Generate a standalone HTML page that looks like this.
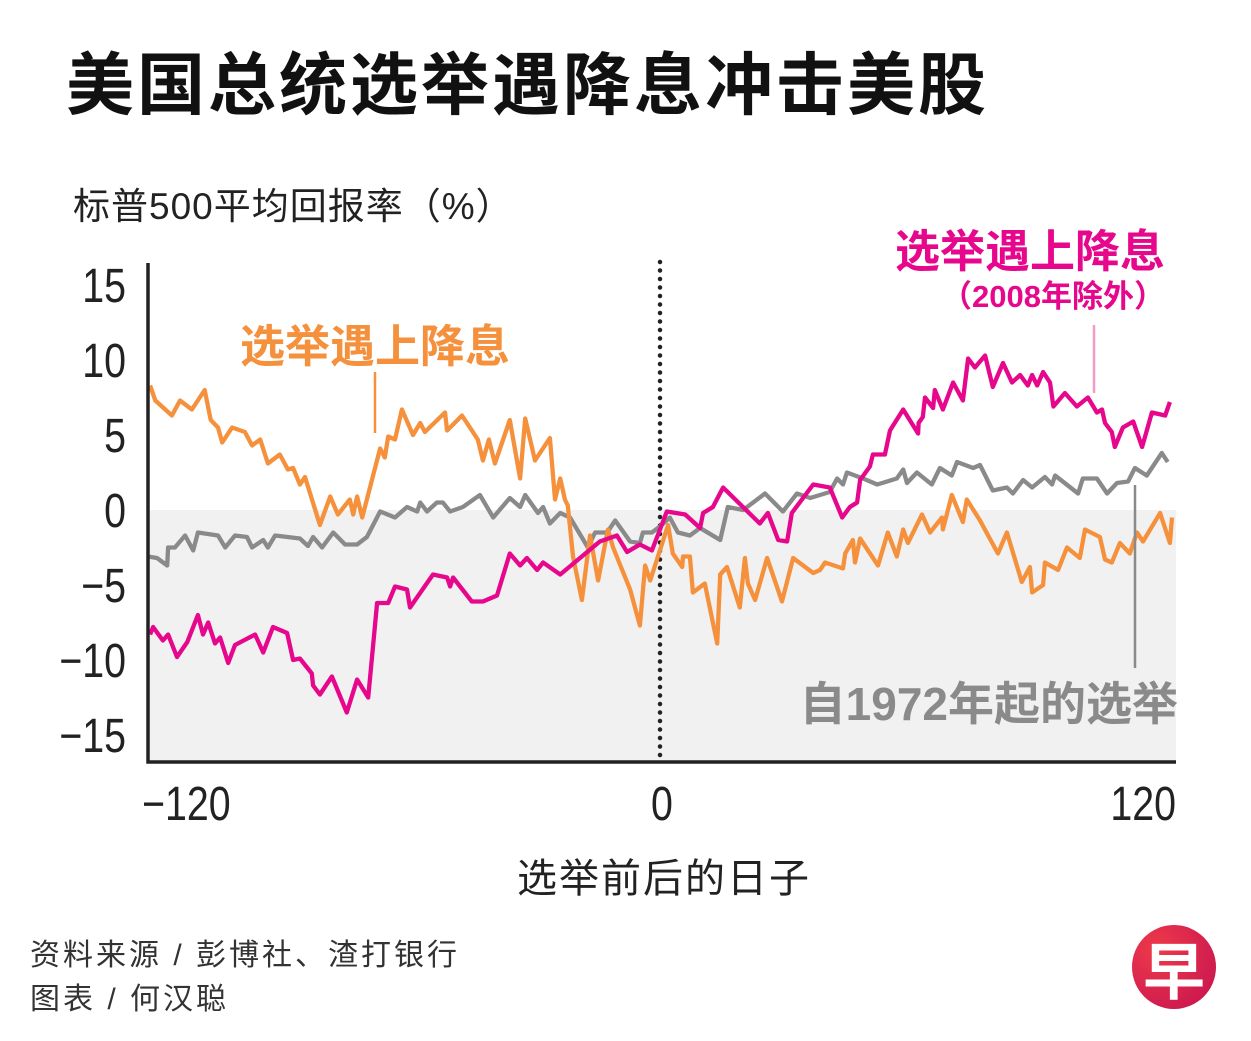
<!DOCTYPE html>
<html><head><meta charset="utf-8">
<style>
html,body{margin:0;padding:0;background:#fff;}
body{width:1251px;height:1041px;position:relative;overflow:hidden;font-family:"Liberation Sans","Noto Sans CJK SC",sans-serif;}
.t{position:absolute;white-space:nowrap;}
</style></head><body>
<div class="t" style="left:66px;top:30px;font-size:68px;font-weight:bold;color:#111;letter-spacing:3px;">美国总统选举遇降息冲击美股</div>
<div class="t" style="left:73px;top:176px;font-size:37px;color:#222;letter-spacing:1px;">标普500平均回报率（%）</div>
<svg id="chart" width="1251" height="1041" style="position:absolute;left:0;top:0;"></svg>
<div class="t" style="left:517px;top:846px;font-size:40px;color:#222;letter-spacing:2px;">选举前后的日子</div>
<div class="t" style="left:30px;top:930px;font-size:30px;color:#333;letter-spacing:3px;">资料来源 / 彭博社、渣打银行</div>
<div class="t" style="left:30px;top:974px;font-size:30px;color:#333;letter-spacing:3px;">图表 / 何汉聪</div>
<div style="position:absolute;left:1132px;top:925px;width:84px;height:84px;border-radius:50%;background:radial-gradient(circle at 30% 30%,#ee3a4a,#c41050);color:#fff;font-size:62px;font-weight:bold;text-align:center;line-height:84px;font-family:'Noto Sans CJK SC',sans-serif;">早</div>
<script>
const orangeDays=[-119.5,-118.3,-114.4,-112.5,-109.7,-106.7,-105.3,-103.6,-102.6,-100.3,-97.3,-95.6,-93.7,-91.9,-89.1,-87.2,-86,-84.4,-83.2,-79.7,-77.3,-75.5,-72.7,-71.9,-71,-69.8,-65.6,-64.5,-63.7,-62.1,-60.5,-57.9,-56.2,-55.1,-50.4,-49.9,-46.4,-42.7,-41.5,-40.1,-38.7,-35.2,-32.8,-31.6,-29.3,-25.8,-24.6,-23.4,-22.3,-21.6,-20.4,-18.3,-16.4,-14.5,-12.2,-11,-7,-4.7,-3.5,-2.3,1.9,3,5.2,5.4,7,7.7,10.5,13.4,14.1,15.7,18.7,19.9,20.6,22.3,25.1,28.6,31.2,35.9,37.5,38.7,42.9,43.4,45.2,45.7,46.9,51.1,53.4,55.5,57,58.1,61.4,63.3,66.1,66.3,68.4,71,71.9,75,79.2,81.3,84.8,86.7,87.2,89.8,90.2,93.3,95.4,98.4,99.6,103.1,104.3,105.9,107.8,110.1,111.8,113.2,117.2,119.5,120];
const orangeVals=[8.3,7.3,6.3,7.3,6.7,8,6,5.5,4.5,5.5,5.2,4.3,4.7,3.1,3.7,2.7,2.8,1.7,2.2,-1,0.9,-0.3,0.7,-0.3,0.9,-0.5,4.1,3.5,4.9,4.7,6.7,5,5.8,5.2,6.5,5.3,6.3,4.7,3.3,4.7,3.1,6,2.1,6.1,3.3,4.8,0.7,2.1,0.7,0.3,-3.1,-6,-1.7,-4.7,-1.3,-2.5,-5.3,-7.7,-3.7,-4.7,-1,-2.9,-3.8,-3.1,-3.1,-5.5,-4.9,-8.9,-4.3,-3.8,-6.5,-3.2,-4.9,-6,-3.2,-6.1,-3.2,-4.2,-4,-3.5,-3.9,-2.9,-2,-3.5,-1.9,-3.7,-1.5,-3.1,-1.3,-2.2,-0.3,-1.5,-0.5,-1.3,1,-0.8,0.7,-0.7,-2.9,-1.5,-4.8,-3.8,-5.5,-5,-3.5,-4,-2.5,-3.2,-1.3,-1.8,-3.3,-3.5,-2.2,-2.9,-1.5,-2.1,-0.2,-2.2,-0.5];
const magentaDays=[-119.5,-118.8,-116.5,-115.3,-113.2,-110.8,-108.3,-107.1,-105.9,-104.3,-103.1,-101.2,-99.6,-94.9,-93,-90.7,-87.4,-86,-84.4,-81.6,-81.3,-79.7,-76.9,-73.4,-71,-68.4,-66.3,-63.7,-62.1,-59.3,-58.6,-53.2,-49.9,-49.2,-48.5,-44.1,-41.5,-38.2,-35.2,-32.8,-31.2,-28.8,-27.4,-23.4,-14.1,-10.1,-7.7,-4.7,-1.9,0,1.6,5.9,9.4,10.1,12.4,14.8,23.4,25.3,27.7,29.8,30.9,35.9,39.8,42.7,44.5,46.2,46.9,49.2,49.9,52.7,53.9,57,60.5,60.6,61.6,62.1,64,64.4,66.3,68.7,71,72.2,73.8,76.2,78,80.4,82.5,84.4,86.2,87.2,88.4,89.8,91.4,92.2,94.9,97.7,100.3,102.4,103.6,104.3,105.9,106.6,108.5,110.9,113,115.3,118.4,119.5];
const magentaVals=[-8.3,-7.8,-8.7,-8.3,-9.8,-8.8,-7,-8.3,-7.5,-8.9,-8.5,-10.2,-9,-8.3,-9.5,-7.8,-8.2,-10,-9.9,-10.9,-11.7,-12.3,-11.1,-13.5,-11.3,-12.5,-6.2,-6.2,-5.1,-5.3,-6.5,-4.3,-4.5,-5.1,-4.5,-6.1,-6.1,-5.7,-2.9,-3.7,-3.2,-4,-3.5,-4.3,-2.1,-1.7,-2.8,-2.3,-2.7,-1.3,-0.1,-0.3,-1.2,-0.2,0.2,1.5,-0.9,-0.2,-2,-2.1,-0.2,1.7,1.5,-0.5,0.2,0.5,2,2.9,3.7,3.7,5.3,6.7,5.1,5.8,6.2,7.5,6.8,8,6.7,8.5,7.3,10.1,9.5,10.3,8.2,9.8,8.5,9,8.3,9,8.3,9.2,8.5,6.9,7.8,6.9,7.5,6.5,6.7,5.8,5.2,4.2,5.5,5.9,4.2,6.5,6.3,7.2];
const grayDays=[-120,-117.9,-115.5,-115.3,-113.7,-111.3,-109.4,-108.3,-103.6,-101.9,-99.6,-96.8,-95.6,-93,-91.9,-90.2,-84.4,-82.5,-81.3,-79.2,-76.6,-73.8,-71,-68.7,-65.6,-62.1,-59.3,-56.9,-56.2,-54.6,-52.3,-50.9,-49.2,-46.2,-42.2,-39.1,-35.2,-32.8,-31.6,-28.6,-27.4,-25.8,-23.4,-21.1,-16.9,-15.2,-12.4,-10.5,-7,-4.7,-4,-1.9,0,2.3,4.2,7,9.4,14.1,15.9,19.5,24.6,28.8,32.1,35.2,39.8,41.5,42.9,43.8,47.6,50.9,55.5,57,57.9,60.2,63.7,65.6,68.4,69.6,73.4,75,78,81.3,82.7,85.1,87.2,90.2,91.9,92.6,98,99.1,102.4,104.8,107.1,109.7,111.3,114.1,117.6,119];
const grayVals=[-3.1,-3.2,-3.7,-2.5,-2.5,-1.7,-2.7,-1.5,-1.7,-2.5,-1.7,-1.8,-2.5,-2,-2.5,-1.7,-1.9,-2.4,-1.8,-2.5,-1.5,-2.3,-2.3,-1.8,-0.1,-0.5,0.2,-0.1,0.5,-0.1,0.5,0.5,-0.1,0.2,1,-0.5,0.8,0.2,1,-0.2,0.2,-0.9,-0.2,-0.5,-2.5,-1.5,-1.5,-0.7,-2.1,-2.2,-1.5,-1.5,-1.1,-0.5,-1.5,-1.7,-1.2,-2,0.2,0,1.1,-0.1,1.1,0.8,1.2,2.1,1.7,2.5,2.1,1.7,2.1,2.7,1.8,2.5,1.7,2.8,2.3,3.2,2.8,3,1.3,1.5,1.1,2,1.5,2.2,1.7,2.3,1.1,2.1,2.1,1.1,1.8,1.9,2.8,2.3,3.8,3.2];
const yTicks=[15,10,5,0,-5,-10,-15];
const yTickLabels=["15","10","5","0","\u22125","\u221210","\u221215"];
const xTicks=[-120,0,120];
const xTickLabels=["\u2212120","0","120"];

const NS="http://www.w3.org/2000/svg";
const svg=document.getElementById('chart');
function X(d){return 660+(d)*512/120;}
function Y(v){return 510-v*15;}
function mk(t,a){const e=document.createElementNS(NS,t);for(const k in a)e.setAttribute(k,a[k]);svg.appendChild(e);return e;}

let bg=mk('rect',{x:148,y:Y(0),width:1028,height:762-Y(0),fill:'#f1f1f1'});



let dl=mk('line',{x1:X(0),y1:262,x2:X(0),y2:760,stroke:'#222','stroke-width':4.5,'stroke-dasharray':'0 8.5','stroke-linecap':'round'});



function series(days,vals,color,name){
  let d='';
  for(let i=0;i<days.length;i++)d+=(i?'L':'M')+X(days[i]).toFixed(1)+','+Y(vals[i]).toFixed(1);
  const p=mk('path',{d:d,fill:'none',stroke:color,'stroke-width':4.3,'stroke-linejoin':'round'});
  
  
}
series(grayDays,grayVals,'#8a8a8a','series-all-elections');
series(orangeDays,orangeVals,'#f5913c','series-rate-cut');
series(magentaDays,magentaVals,'#e6078c','series-rate-cut-ex-2008');

let ax=mk('path',{d:'M148,263 L148,762 L1176,762',fill:'none',stroke:'#222','stroke-width':3.5});



yTicks.forEach((v,i)=>{
  const t=mk('text',{x:0,y:0,transform:'translate(126,'+(Y(v)+17)+') scale(0.82,1)','text-anchor':'end','font-size':48,fill:'#222','font-family':'"Liberation Sans",sans-serif'});
  t.textContent=yTickLabels[i];
  
  
});
xTicks.forEach((v,i)=>{
  const anchor=i==0?'start':(i==2?'end':'middle');
  const xx=i==0?142:(i==2?1176:X(v)+2);
  const t=mk('text',{x:0,y:0,transform:'translate('+xx+',820) scale(0.82,1)','text-anchor':anchor,'font-size':48,fill:'#222','font-family':'"Liberation Sans",sans-serif'});
  t.textContent=xTickLabels[i];
  
  
});

function line(x1,y1,x2,y2,c,w,n){const l=mk('line',{x1,y1,x2,y2,stroke:c,'stroke-width':w});}
line(375,372,375,433,'#f5913c',2.5,'orange-label-leader');
line(1094,325,1094,393,'#f39bc6',2.5,'magenta-label-leader');
line(1135,485,1135,668,'#8a8a8a',2.5,'gray-label-leader');
function txt(x,y,s,size,c,anchor,n){const t=mk('text',{x,y,'font-size':size,'font-weight':'bold',fill:c,'text-anchor':anchor,'font-family':'"Liberation Sans","Noto Sans CJK SC",sans-serif'});t.textContent=s;}
txt(240,362,'选举遇上降息',45,'#f5913c','start','orange-series-label');
txt(1165,267,'选举遇上降息',45,'#e6078c','end','magenta-series-label');
txt(1165,307,'（2008年除外）',31,'#e6078c','end','magenta-series-sublabel');
txt(1178,720,'自1972年起的选举',46,'#8a8a8a','end','gray-series-label');
</script>
</body></html>
